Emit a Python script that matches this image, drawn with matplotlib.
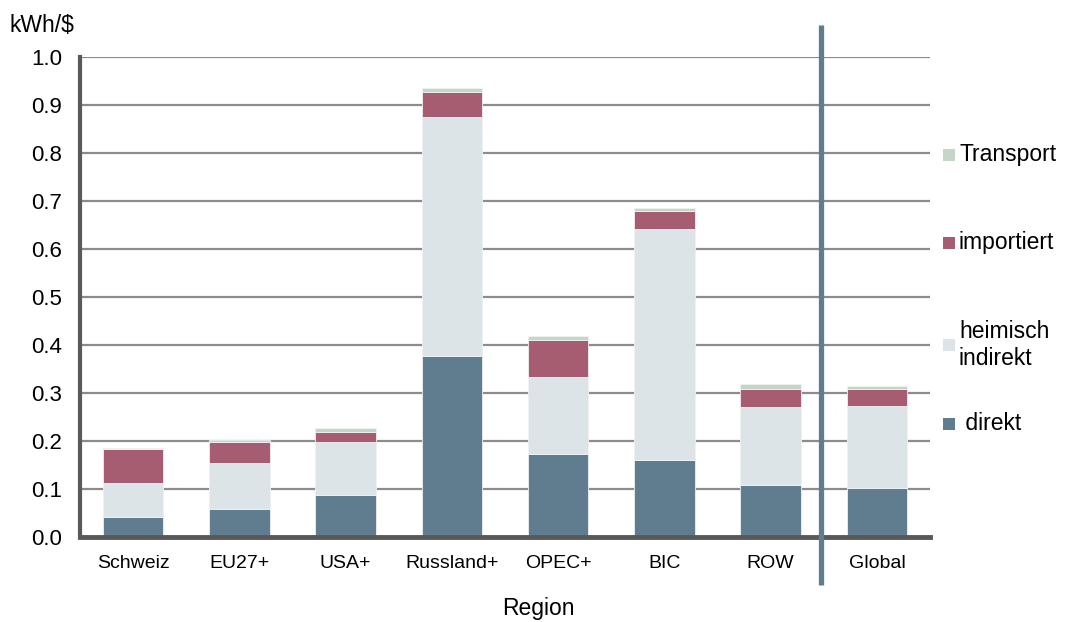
import numpy as np
import matplotlib.pyplot as plt
from matplotlib.patches import Rectangle

plt.rcParams['font.family'] = ['Liberation Sans', 'DejaVu Sans']

# Energieintensität je Region, kWh pro $ (gestapelt)
regionen = ['Schweiz', 'EU27+', 'USA+', 'Russland+', 'OPEC+', 'BIC', 'ROW', 'Global']
direkt = [0.042, 0.059, 0.088, 0.377, 0.172, 0.160, 0.108, 0.101]
heimisch_indirekt = [0.070, 0.096, 0.110, 0.498, 0.161, 0.482, 0.162, 0.171]
importiert = [0.071, 0.042, 0.021, 0.051, 0.078, 0.037, 0.039, 0.036]
transport = [0.003, 0.006, 0.009, 0.010, 0.008, 0.006, 0.009, 0.007]

serien = [
    (' direkt', direkt, '#5f7d8e'),
    ('heimisch\nindirekt', heimisch_indirekt, '#dde4e8'),
    ('importiert', importiert, '#a65c71'),
    ('Transport', transport, '#c5d6c6'),
]

fig = plt.figure(figsize=(10.68, 6.22), dpi=100)
ax = fig.add_axes([0.0749, 0.1367, 0.7959, 0.7717])

x = np.arange(len(regionen))
bottom = np.zeros(len(regionen))
for name, vals, col in serien:
    ax.bar(x, vals, width=0.57, bottom=bottom, color=col,
           edgecolor='#eef2f3', linewidth=0.6, zorder=3)
    bottom += np.array(vals)

ax.set_xlim(-0.5, 7.5)
ax.set_ylim(0, 1.0)
ticks = np.arange(0, 1.01, 0.1)
ax.set_yticks(ticks)
ax.set_yticklabels([f'{v:.1f}' for v in ticks], fontsize=16)
ax.set_xticks(x)
ax.set_xticklabels(regionen, fontsize=14)
ax.tick_params(axis='both', length=0)
ax.tick_params(axis='y', pad=13)
ax.tick_params(axis='x', pad=13)

ax.yaxis.grid(True, color='#8c8c8c', linewidth=1.6, zorder=0)
ax.set_axisbelow(True)
for s in ['top', 'right']:
    ax.spines[s].set_visible(False)
ax.spines['left'].set_color('#595959')
ax.spines['left'].set_linewidth(3)
ax.spines['bottom'].set_color('#595959')
ax.spines['bottom'].set_linewidth(3.5)
ax.spines['bottom'].set_zorder(5)

# Trennlinie zwischen Regionen und Global
ax.plot([6.47, 6.47], [-0.1, 1.067], color='#5f7d8e', linewidth=3.8,
        clip_on=False, zorder=6, solid_capstyle='butt')

fig.text(538 / 1068, (622 - 609) / 622, 'Region', fontsize=16.5,
         ha='center', va='center')
fig.text(0.009, (622 - 25) / 622, 'kWh/$', fontsize=16.5, va='center', ha='left')

# Legende rechts
legende = [('Transport', '#c5d6c6', 155), ('importiert', '#a65c71', 243),
           ('heimisch\nindirekt', '#dde4e8', 345), (' direkt', '#5f7d8e', 424)]
for label, col, ypx in legende:
    sq = 12
    fig.patches.append(Rectangle((943 / 1068, (622 - ypx - sq / 2) / 622),
                                 sq / 1068, sq / 622, transform=fig.transFigure,
                                 facecolor=col, edgecolor='none'))
    fig.text(959 / 1068, (622 - ypx) / 622, label, fontsize=16.5,
             va='center', ha='left', linespacing=1.2)

fig.savefig('out.png', dpi=100)
